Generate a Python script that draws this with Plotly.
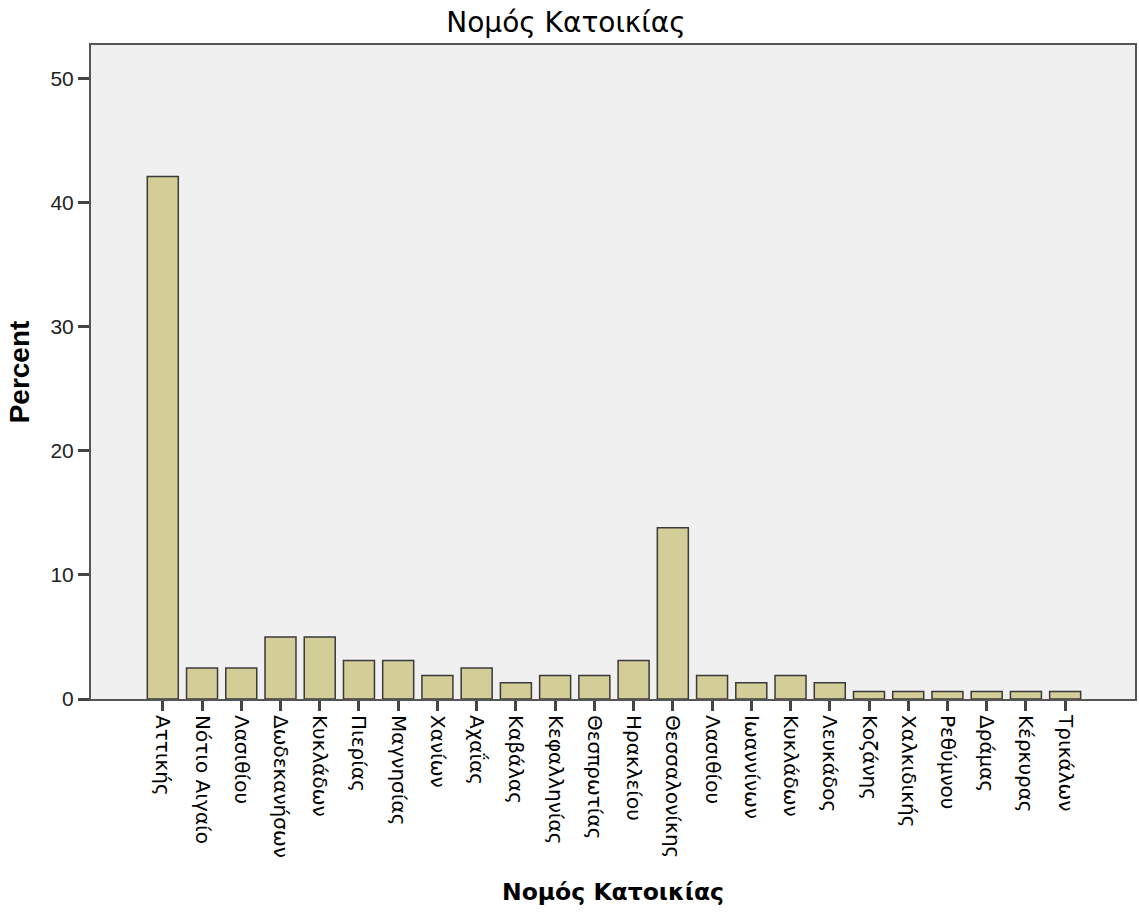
import plotly.graph_objects as go

categories = ["Αττικής", "Νότιο Αιγαίο", "Λασιθίου", "Δωδεκανήσων", "Κυκλάδων", "Πιερίας",
              "Μαγνησίας", "Χανίων", "Αχαΐας", "Καβάλας", "Κεφαλληνίας", "Θεσπρωτίας",
              "Ηρακλείου", "Θεσσαλονίκης", "Λασιθίου", "Ιωαννίνων", "Κυκλάδων", "Λευκάδος",
              "Κοζάνης", "Χαλκιδικής", "Ρεθύμνου", "Δράμας", "Κέρκυρας", "Τρικάλων"]
percent = [42.1, 2.5, 2.5, 5.0, 5.0, 3.1, 3.1, 1.9, 2.5, 1.3, 1.9, 1.9,
           3.1, 13.8, 1.9, 1.3, 1.9, 1.3, 0.6, 0.6, 0.6, 0.6, 0.6, 0.6]
y_ticks = [0, 10, 20, 30, 40, 50]

positions = list(range(len(categories)))

fig = go.Figure(go.Bar(
    x=positions, y=percent, width=0.79,
    marker=dict(color="#D3CE97", line=dict(color="#3a3a3a", width=1.5)),
    hoverinfo="y",
))

fig.update_layout(
    width=1139, height=913,
    margin=dict(l=91, r=2, t=45, b=214),
    paper_bgcolor="white", plot_bgcolor="#F0F0F0",
    showlegend=False,
    title=dict(text="Νομός Κατοικίας", x=566 / 1139, xref="container", xanchor="center",
               y=1 - 22 / 913, yref="container", yanchor="middle",
               font=dict(family="DejaVu Sans", size=28, color="black")),
    font=dict(family="DejaVu Sans", color="black"),
)

fig.update_xaxes(
    range=[-1.83, 24.78], tickmode="array", tickvals=positions, ticktext=categories,
    tickangle=90, ticks="outside", ticklen=10, tickwidth=2.5, tickcolor="#444",
    showline=True, linecolor="#555", linewidth=2, mirror=True,
    showgrid=False, zeroline=False,
    tickfont=dict(family="DejaVu Sans", size=20, color="black"),
    title=dict(text="<b>Νομός Κατοικίας</b>", standoff=26,
               font=dict(family="DejaVu Sans", size=23.5, color="black")),
)
fig.update_yaxes(
    range=[0, 52.7], tickmode="array", tickvals=y_ticks,
    ticks="outside", ticklen=11, tickwidth=2.5, tickcolor="#444",
    showline=True, linecolor="#555", linewidth=2, mirror=True,
    showgrid=False, zeroline=False,
    tickfont=dict(family="Liberation Sans", size=21, color="#222"),
    title=dict(text="<b>Percent</b>", standoff=13,
               font=dict(family="Liberation Sans", size=28, color="black")),
)

fig.write_html("out.html", config={"displayModeBar": False},
               post_script="document.body.style.margin='0';")
